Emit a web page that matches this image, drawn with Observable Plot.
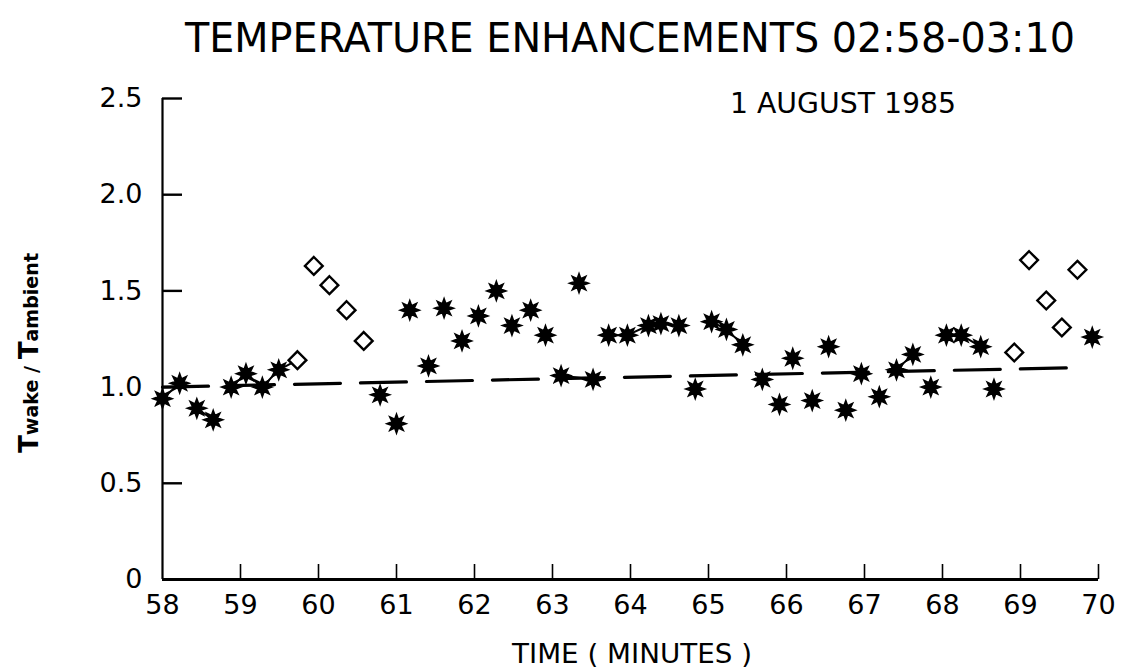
<!DOCTYPE html>
<html><head><meta charset="utf-8">
<script src="https://cdn.jsdelivr.net/npm/d3@7"></script>
<script src="https://cdn.jsdelivr.net/npm/@observablehq/plot@0.6"></script>
<style>body{margin:0;background:#fff}</style>
</head><body><div id="chart"></div>
<script>
// ---- data ----
const titleText = "TEMPERATURE ENHANCEMENTS 02:58-03:10";
const dateText = "1 AUGUST 1985";
const xLabel = "TIME ( MINUTES )";

const starT = [58.00,58.22,58.44,58.65,58.88,59.07,59.28,59.49,60.79,61.00,61.17,61.41,61.61,61.84,62.05,62.28,62.48,62.72,62.91,63.11,63.34,63.52,63.72,63.96,64.23,64.39,64.62,64.83,65.04,65.23,65.44,65.69,65.91,66.08,66.33,66.54,66.76,66.96,67.19,67.41,67.62,67.85,68.05,68.24,68.49,68.66,69.92];
const starV = [0.94,1.02,0.89,0.83,1.00,1.07,1.00,1.09,0.96,0.81,1.40,1.11,1.41,1.24,1.37,1.50,1.32,1.40,1.27,1.06,1.54,1.04,1.27,1.27,1.32,1.33,1.32,0.99,1.34,1.30,1.22,1.04,0.91,1.15,0.93,1.21,0.88,1.07,0.95,1.09,1.17,1.00,1.27,1.27,1.21,0.99,1.26];

const diamondT = [59.73,59.94,60.14,60.36,60.58,68.92,69.11,69.33,69.53,69.73];
const diamondV = [1.14,1.63,1.53,1.40,1.24,1.18,1.66,1.45,1.31,1.61];

// runs of consecutive samples joined by a thin line in the original
const joinedRuns = [
  [58.00,58.22],[58.44,58.65],[58.88,59.07,59.28,59.49,59.73],
  [63.11,63.52],[63.96,64.23,64.39,64.62],[65.04,65.23,65.44],
  [67.41,67.62],[68.05,68.24,68.49]
];

// ambient trend (dashed)
const trendT = [58.0, 69.6];
const trendV = [1.0, 1.10];

const xTicks = [58,59,60,61,62,63,64,65,66,67,68,69,70];
const yTicks = [0,0.5,1.0,1.5,2.0,2.5];
const yTickLabels = ["0","0.5","1.0","1.5","2.0","2.5"];

// ---- build tables ----
const stars = starT.map((t,i)=>({t, v: starV[i]}));
const diamonds = diamondT.map((t,i)=>({t, v: diamondV[i]}));
const lookup = new Map([...stars, ...diamonds].map(d=>[d.t, d.v]));
const runs = joinedRuns.flatMap((r,k)=>r.map(t=>({t, v: lookup.get(t), run: k})));
const trend = trendT.map((t,i)=>({t, v: trendV[i]}));

const star8 = {
  draw(ctx, size) {
    const R = Math.sqrt(size / Math.PI), r = R * 0.5;
    for (let i = 0; i < 16; i++) {
      const a = i * Math.PI / 8;
      const rr = i % 2 ? r : R;
      const x = rr * Math.cos(a), y = rr * Math.sin(a);
      if (i) ctx.lineTo(x, y); else ctx.moveTo(x, y);
    }
    ctx.closePath();
  }
};

const font = "DejaVu Sans, sans-serif";

const chart = Plot.plot({
  width: 1124,
  height: 669,
  marginLeft: 162,
  marginRight: 26,
  marginTop: 98,
  marginBottom: 90,
  style: {fontFamily: font, background: "#fff", color: "#000"},
  x: {domain: [58, 70], axis: null},
  y: {domain: [0, 2.5], axis: null},
  marks: [
    // axes lines
    Plot.ruleX([58], {y1: 0, y2: 2.5, stroke: "#000", strokeWidth: 2.2}),
    Plot.ruleY([0], {x1: 58, x2: 70, stroke: "#000", strokeWidth: 3}),
    // inward ticks
    Plot.ruleX(xTicks.slice(1), {x: d=>d, y1: 0, y2: 0, insetTop: -15, stroke: "#000", strokeWidth: 1.6}),
    Plot.ruleY(yTicks.slice(1), {y: d=>d, x1: 58, x2: 58, insetRight: -20, stroke: "#000", strokeWidth: 2.4}),
    // tick labels
    Plot.text(xTicks, {x: d=>d, y: 0, dy: 26, text: d=>String(d), fontSize: 27, fill: "#000"}),
    Plot.text(yTicks, {x: 58, y: d=>d, dx: -20, text: (d,i)=>yTickLabels[i], textAnchor: "end", fontSize: 27, fill: "#000"}),
    // dashed ambient trend
    Plot.line(trend, {x: "t", y: "v", stroke: "#000", strokeWidth: 3.2, strokeDasharray: "46,20"}),
    // thin joins
    Plot.line(runs, {x: "t", y: "v", z: "run", stroke: "#000", strokeWidth: 2}),
    // points
    Plot.dot(diamonds, {x: "t", y: "v", symbol: "diamond2", r: 8, stroke: "#000", strokeWidth: 2.4, fill: "#fff"}),
    Plot.dot(stars, {x: "t", y: "v", symbol: star8, r: 9.5, fill: "#000", stroke: "#000", strokeWidth: 1.6, strokeLinejoin: "miter"})
  ]
});

const svg = d3.select(chart);
svg.append("text")
  .attr("x", 630).attr("y", 52)
  .attr("text-anchor", "middle")
  .attr("font-family", font).attr("font-size", 40)
  .attr("textLength", 890).attr("lengthAdjust", "spacingAndGlyphs")
  .text(titleText);
svg.append("text")
  .attr("x", 843).attr("y", 113)
  .attr("font-family", font).attr("font-size", 28)
  .attr("textLength", 226).attr("lengthAdjust", "spacingAndGlyphs")
  .text(dateText);
svg.append("text")
  .attr("x", 632).attr("y", 663)
  .attr("text-anchor", "middle")
  .attr("font-family", font).attr("font-size", 27)
  .attr("textLength", 240).attr("lengthAdjust", "spacingAndGlyphs")
  .text(xLabel);
const yl = svg.append("text")
  .attr("transform", "translate(38,353) rotate(-90)")
  .attr("text-anchor", "middle")
  .attr("font-family", font).attr("font-weight", "bold")
  .attr("textLength", 200).attr("lengthAdjust", "spacingAndGlyphs");
yl.append("tspan").attr("font-size", 26).text("T");
yl.append("tspan").attr("font-size", 19).text("wake / ");
yl.append("tspan").attr("font-size", 26).text("T");
yl.append("tspan").attr("font-size", 19).text("ambient");

document.getElementById("chart").append(chart);
</script>
</body></html>
